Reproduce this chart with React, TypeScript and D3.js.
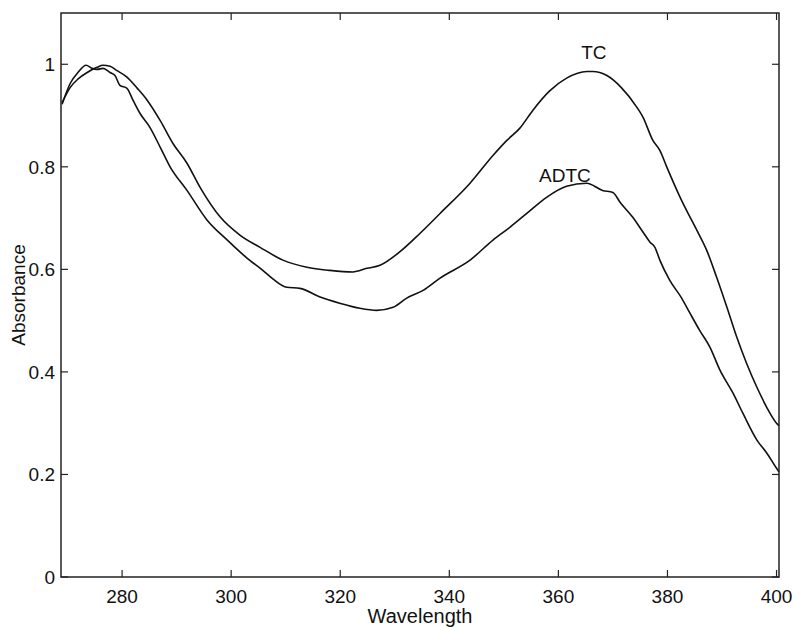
import React from "react";
import * as d3 from "d3";

const tcWavelength = [269.0, 270.5, 272.0, 273.6, 275.4, 276.5, 277.8, 279.0, 280.9, 282.8, 284.6, 287.0, 289.3, 291.9, 294.3, 298.0, 301.6, 305.3, 309.5, 313.9, 318.1, 322.3, 324.9, 327.3, 330.9, 334.6, 338.3, 343.8, 348.0, 350.6, 352.9, 355.3, 358.4, 361.5, 365.2, 366.3, 368.9, 371.5, 374.4, 375.5, 377.3, 378.6, 379.9, 382.3, 383.5, 385.4, 387.2, 389.0, 390.9, 392.7, 394.5, 396.4, 398.2, 400.0, 400.45];
const tcAbsorbance = [0.925, 0.955, 0.972, 0.984, 0.994, 0.998, 0.996, 0.988, 0.975, 0.953, 0.930, 0.890, 0.846, 0.807, 0.760, 0.702, 0.667, 0.643, 0.618, 0.604, 0.598, 0.595, 0.602, 0.608, 0.634, 0.670, 0.709, 0.768, 0.822, 0.852, 0.875, 0.910, 0.948, 0.973, 0.986, 0.986, 0.978, 0.955, 0.916, 0.897, 0.852, 0.832, 0.799, 0.741, 0.715, 0.676, 0.637, 0.585, 0.526, 0.468, 0.417, 0.370, 0.331, 0.300, 0.295];

const adtcWavelength = [269.0, 270.5, 271.9, 273.4, 274.5, 275.4, 276.5, 277.8, 278.7, 279.6, 280.9, 282.0, 283.3, 285.1, 287.0, 288.8, 291.9, 295.6, 299.3, 302.9, 305.8, 307.7, 310.2, 312.6, 316.3, 319.9, 323.6, 326.7, 329.7, 332.2, 335.2, 338.3, 343.8, 348.0, 351.1, 354.2, 357.9, 361.5, 365.2, 368.1, 370.0, 371.3, 373.6, 375.5, 376.8, 377.7, 378.6, 380.4, 382.6, 384.1, 385.9, 387.8, 389.6, 392.0, 393.8, 396.4, 398.2, 400.0, 400.45];
const adtcAbsorbance = [0.922, 0.963, 0.984, 0.998, 0.992, 0.990, 0.992, 0.984, 0.978, 0.959, 0.953, 0.930, 0.904, 0.877, 0.838, 0.800, 0.754, 0.696, 0.657, 0.622, 0.598, 0.581, 0.565, 0.563, 0.546, 0.534, 0.524, 0.520, 0.526, 0.544, 0.559, 0.583, 0.618, 0.657, 0.682, 0.709, 0.741, 0.762, 0.768, 0.754, 0.750, 0.731, 0.702, 0.673, 0.653, 0.643, 0.618, 0.579, 0.544, 0.515, 0.481, 0.448, 0.404, 0.359, 0.320, 0.267, 0.242, 0.212, 0.205];

const seriesNames = ["TC", "ADTC"];
const labelWavelength = [366.5, 361.2];
const labelAbsorbance = [1.01, 0.77];

const xTicks = [280, 300, 320, 340, 360, 380, 400];
const yTicks = [0, 0.2, 0.4, 0.6, 0.8, 1];
const yTickLabels = ["0", "0.2", "0.4", "0.6", "0.8", "1"];

const xDomain = [268.8, 400.45];
const yDomain = [0, 1.1];

export default function App() {
  const W = 793, H = 627;
  const left = 61, right = 779, top = 13, bottom = 577;
  const x = d3.scaleLinear().domain(xDomain).range([left, right]);
  const y = d3.scaleLinear().domain(yDomain).range([bottom, top]);
  const line = d3.line<[number, number]>().x(d => x(d[0])).y(d => y(d[1])).curve(d3.curveMonotoneX);
  const tc = tcWavelength.map((w, i) => [w, tcAbsorbance[i]] as [number, number]);
  const adtc = adtcWavelength.map((w, i) => [w, adtcAbsorbance[i]] as [number, number]);
  const font = "'Liberation Sans', Arial, Helvetica, sans-serif";
  const tl = 7;
  const fs = 19;
  return (
    <svg width={W} height={H} style={{ position: "absolute", left: 0, top: 0, background: "#fff" }} fontFamily={font}>
      <rect x={0} y={0} width={W} height={H} fill="#fff" />
      <path d={line(tc) || ""} fill="none" stroke="#111" strokeWidth={1.6} strokeLinejoin="round" />
      <path d={line(adtc) || ""} fill="none" stroke="#111" strokeWidth={1.6} strokeLinejoin="round" />
      <rect x={left} y={top} width={right - left} height={bottom - top} fill="none" stroke="#222" strokeWidth={1.5} />
      {xTicks.map(t => (
        <g key={"x" + t}>
          <line x1={x(t)} x2={x(t)} y1={bottom} y2={bottom - tl} stroke="#222" strokeWidth={1.2} />
          <line x1={x(t)} x2={x(t)} y1={top} y2={top + tl} stroke="#222" strokeWidth={1.2} />
          <text x={x(t)} y={bottom + 26} textAnchor="middle" fontSize={fs} fill="#111">{t}</text>
        </g>
      ))}
      {yTicks.map((t, i) => (
        <g key={"y" + t}>
          <line x1={left} x2={left + tl} y1={y(t)} y2={y(t)} stroke="#222" strokeWidth={1.2} />
          <line x1={right} x2={right - tl} y1={y(t)} y2={y(t)} stroke="#222" strokeWidth={1.2} />
          <text x={left - 6} y={y(t) + 7} textAnchor="end" fontSize={fs} fill="#111">{yTickLabels[i]}</text>
        </g>
      ))}
      {seriesNames.map((n, i) => (
        <text key={n} x={x(labelWavelength[i])} y={y(labelAbsorbance[i])} textAnchor="middle" fontSize={fs} fill="#111">{n}</text>
      ))}
      <text x={(left + right) / 2} y={623} textAnchor="middle" fontSize={20} fill="#111">Wavelength</text>
      <text transform={`translate(25, ${(top + bottom) / 2}) rotate(-90)`} textAnchor="middle" fontSize={fs} fill="#111">Absorbance</text>
    </svg>
  );
}
